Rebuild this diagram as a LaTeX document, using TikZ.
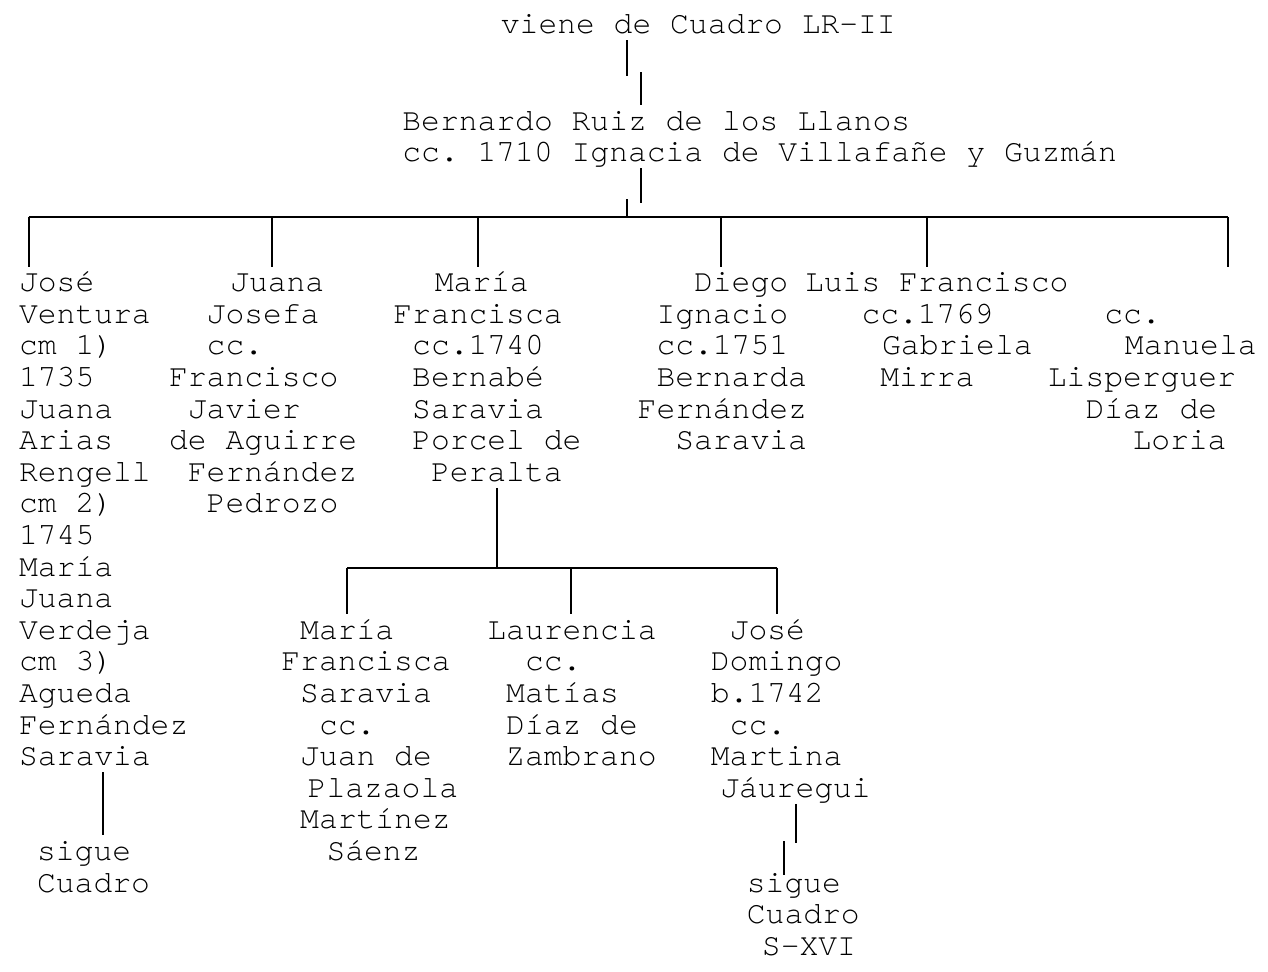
\documentclass[tikz,border=0pt]{standalone}
\usepackage{fontspec}
\setmonofont{texgyrecursor-regular.otf}
\tikzset{
 link/.style={draw=black, line width=1pt},
 ln/.style={anchor=base west, inner sep=0pt, text height=12.3pt, text depth=3.15pt,
   font=\fontsize{15.67}{18}\selectfont\ttfamily},
 }

\begin{document}
\begin{tikzpicture}[x=0.5pt, y=-0.5pt]
        \useasboundingbox (0, 0) rectangle (1268, 971);
        \def\cw{18.8}
        \def\rh{31.6}
        \node[ln] (viene) at (500.5, 33.3) {viene de Cuadro LR-II};
        \node[ln] (bernardo) at (402, 130) {Bernardo Ruiz de los Llanos};
        \node[ln] (ignacia) at (402, 161.7) {cc. 1710 Ignacia de Villafañe y Guzmán};
        \coordinate (v1) at (627, 76);
        \coordinate (v2) at (641, 72);
        \coordinate (v3) at (641, 203);
        \coordinate (v4) at (627, 199);
        \coordinate (bus-w) at (28.5, 217);
        \coordinate (bus-e) at (1227.5, 217);
        \draw[link] (v1 |- viene.south) -- (v1);
        \draw[link] (v2) -- (v2 |- bernardo.north);
        \draw[link] (v3 |- ignacia.south) -- (v3);
        \draw[link] (v4) -- (v4 |- bus-w);
        \draw[link] (bus-w) -- (bus-e);

        \foreach \t/\o[count=\i from 0] in {José/0, Ventura/0, cm 1)/0, 1735/0, Juana/0, Arias/0, Rengell/0, cm 2)/0, 1745/0, María/0, Juana/0, Verdeja/0, cm 3)/0, Agueda/0, Fernández/0, Saravia/0} {
            \node[ln] (jose-\i) at (18.7+\o*\cw, 291.6+\i*\rh) {\t};
        }
        \foreach \t/\o[count=\i from 0] in {Juana/3.25, Josefa/2, cc./2, Francisco/0, Javier/1, de Aguirre/0, Fernández/1, Pedrozo/2} {
            \node[ln] (juana-\i) at (168.7+\o*\cw, 291.6+\i*\rh) {\t};
        }
        \foreach \t/\o[count=\i from 0] in {María/2.2, Francisca/0, cc.1740/1, Bernabé/1, Saravia/1, Porcel de/1, Peralta/2} {
            \node[ln] (maria-\i) at (393+\o*\cw, 291.6+\i*\rh) {\t};
        }
        \foreach \t/\o[count=\i from 0] in {Diego/3, Ignacio/1, cc.1751/1, Bernarda/1, Fernández/0, Saravia/2} {
            \node[ln] (diego-\i) at (637.3+\o*\cw, 291.6+\i*\rh) {\t};
        }
        \foreach \t/\o[count=\i from 0] in {Luis Francisco/0, cc.1769/3, Gabriela/4.1, Mirra/4} {
            \node[ln] (luis-\i) at (804.7+\o*\cw, 291.6+\i*\rh) {\t};
        }
        \foreach \t/\o[count=\i from 1] in {cc./3, Manuela/4.1, Lisperguer/0, Díaz de/2, Loria/4.5} {
            \node[ln] (manuela-\i) at (1047.5+\o*\cw, 291.6+\i*\rh) {\t};
        }
        \foreach \x/\n in {28.5/jose-0, 272/juana-0, 478/maria-0, 720.5/diego-0, 927/luis-0, 1227.5/luis-0} {
            \coordinate (tk) at (\x, 217);
            \draw[link] (tk) -- (tk |- \n.north);
        }

        \foreach \t/\o[count=\i from 18] in {sigue/0, Cuadro/0} {
            \node[ln] (sigueA-\i) at (36.7+\o*\cw, 291.6+\i*\rh) {\t};
        }
        \coordinate (d1) at (103, 800);
        \draw[link] (d1 |- jose-15.south) -- (d1 |- sigueA-18.north);

        \coordinate (sub-w) at (347, 567.5);
        \coordinate (sub-m) at (496.7, 567.5);
        \coordinate (sub-e) at (777, 567.5);
        \draw[link] (sub-m |- maria-6.south) -- (sub-m);
        \draw[link] (sub-w) -- (sub-e);
        \foreach \t/\o[count=\i from 11] in {María/1, Francisca/0, Saravia/1, cc./2, Juan de/1, Plazaola/1.4, Martínez/1, Sáenz/2.4} {
            \node[ln] (mfs-\i) at (281+\o*\cw, 291.6+\i*\rh) {\t};
        }
        \foreach \t/\o[count=\i from 11] in {Laurencia/0, cc./2, Matías/1, Díaz de/1, Zambrano/1} {
            \node[ln] (laur-\i) at (487+\o*\cw, 291.6+\i*\rh) {\t};
        }
        \foreach \t/\o[count=\i from 11] in {José/1, Domingo/0, b.1742/0, cc./1, Martina/0, Jáuregui/0.5} {
            \node[ln] (jdom-\i) at (710.5+\o*\cw, 291.6+\i*\rh) {\t};
        }
        \foreach \x/\n in {347/mfs-11, 570.6/laur-11, 777/jdom-11} {
            \coordinate (tk) at (\x, 567.5);
            \draw[link] (tk) -- (tk |- \n.north);
        }

        \foreach \t/\o[count=\i from 19] in {sigue/0, Cuadro/0, S-XVI/0.8} {
            \node[ln] (sigueB-\i) at (746.5+\o*\cw, 291.6+\i*\rh) {\t};
        }
        \coordinate (j1) at (796, 843);
        \coordinate (j2) at (784.3, 841);
        \coordinate (j3) at (784.3, 875);
        \draw[link] (j1 |- jdom-16.south) -- (j1);
        \draw[link] (j2) -- (j3);
    \end{tikzpicture}
\end{document}
